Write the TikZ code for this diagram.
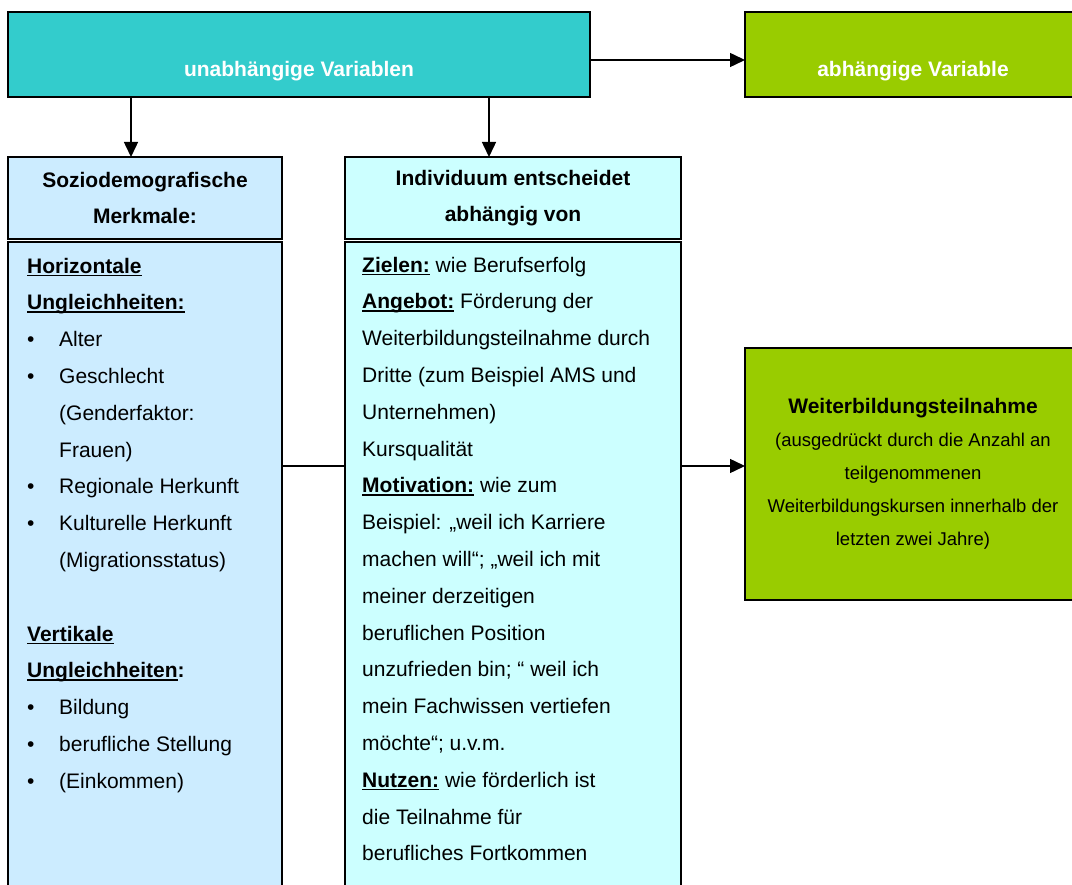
\documentclass[tikz,border=0pt]{standalone}
\usepackage{fontspec}
\setmainfont{Liberation Sans}
\usetikzlibrary{arrows.meta,positioning}
\definecolor{tuerkis}{HTML}{33CCCC}
\definecolor{gruen}{HTML}{99CC00}
\definecolor{hellblau}{HTML}{CCECFF}
\definecolor{hellcyan}{HTML}{CCFFFF}
% Unterstreichung wie im Textprogramm
\newcommand{\unter}[1]{\setbox0\hbox{#1}\rlap{\rule[-3pt]{\wd0}{1.5pt}}\box0}
\newcommand{\pkt}{\makebox[32pt][l]{\textbullet}}
\newcommand{\einr}{\hspace*{32pt}}
\tikzset{
    %Define standard arrow tip
    >={Triangle[length=15pt,width=14pt]},
    %Define style for boxes
    kasten/.style={
           rectangle,
           draw=black, line width=1.5pt,
           inner sep=0pt, outer sep=0pt,
           anchor=north west},
    kopf/.style={
           align=center,
           font=\fontsize{21}{35.5}\selectfont\bfseries},
    weiss/.style={
           text=white,
           inner sep=0pt,
           font=\fontsize{21}{25}\selectfont\bfseries},
    fliess/.style={
           align=left,
           inner sep=0pt,
           anchor=north west,
           font=\fontsize{21}{36.8}\selectfont},
    % Define arrow style
    pfeil/.style={
           ->,
           line width=1.5pt},
    linie/.style={
           line width=1.5pt}
}
\begin{document}
\begin{tikzpicture}[x=1pt,y=-1pt]
\useasboundingbox (0,0) rectangle (1072,885);
\node[kasten, fill=tuerkis, minimum width=582pt, minimum height=85pt] (uv) at (8,12) {};
\node[kasten, fill=gruen, minimum width=336pt, minimum height=85pt, right=155pt of uv] (av) {};
\node[weiss, anchor=base] (uvtext) at ([yshift=-22.5pt]uv.center) {unabhängige Variablen};
\node[weiss, anchor=base] (avtext) at ([yshift=-22.5pt]av.center) {abhängige Variable};

\node[kasten, kopf, fill=hellblau, minimum width=274pt, minimum height=82pt] (sm) at (8,157)
  {Soziodemografische\\Merkmale:};
\node[kasten, kopf, fill=hellcyan, minimum width=336pt, minimum height=82pt, right=63pt of sm] (ind)
  {Individuum entscheidet\\abhängig von};
\node[kasten, fill=hellblau, minimum width=274pt, minimum height=660pt, below=3pt of sm] (lk) {};
\node[kasten, fill=hellcyan, minimum width=336pt, minimum height=660pt, below=3pt of ind] (mk) {};

\node[fliess] (lt) at (27,257.7) {%
\textbf{\unter{Horizontale}}\\
\textbf{\unter{Ungleichheiten:}}\\
\pkt Alter\\
\pkt Geschlecht\\
\einr (Genderfaktor:\\
\einr Frauen)\\
\pkt Regionale Herkunft\\
\pkt Kulturelle Herkunft\\
\einr (Migrationsstatus)\\
\mbox{}\\
\textbf{\unter{Vertikale}}\\
\textbf{\unter{Ungleichheiten}:}\\
\pkt Bildung\\
\pkt berufliche Stellung\\
\pkt (Einkommen)};

\node[fliess] (mt) at (362,256.7) {%
\textbf{\unter{Zielen:}} wie Berufserfolg\\
\textbf{\unter{Angebot:}} Förderung der\\
Weiterbildungsteilnahme durch\\
Dritte (zum Beispiel AMS und\\
Unternehmen)\\
Kursqualität\\
\textbf{\unter{Motivation:}} wie zum\\
Beispiel: „weil ich Karriere\\
machen will“; „weil ich mit\\
meiner derzeitigen\\
beruflichen Position\\
unzufrieden bin; “ weil ich\\
mein Fachwissen vertiefen\\
möchte“; u.v.m.\\
\textbf{\unter{Nutzen:}} wie förderlich ist\\
die Teilnahme für\\
berufliches Fortkommen};

\node[kasten, fill=gruen, minimum width=336pt, minimum height=252pt, align=center,
  font=\fontsize{18.5}{33}\selectfont] (wb) at (745,348)
  {{\fontsize{21}{33}\selectfont\bfseries Weiterbildungsteilnahme}\\
   (ausgedrückt durch die Anzahl an\\
   teilgenommenen\\
   Weiterbildungskursen innerhalb der\\
   letzten zwei Jahre)};

% Verbindungen
\coordinate (mitte) at (0,466);
\draw[pfeil] ([yshift=-5.5pt]uv.east) -- ([yshift=-5.5pt]av.west);
\draw[pfeil] ([xshift=-14pt]sm.north |- uv.south) -- ([xshift=-14pt]sm.north);
\draw[pfeil] ([xshift=-24pt]ind.north |- uv.south) -- ([xshift=-24pt]ind.north);
\draw[linie] (lk.east |- mitte) -- (mk.west |- mitte);
\draw[pfeil] (mk.east |- mitte) -- (wb.west |- mitte);
\end{tikzpicture}
\end{document}
